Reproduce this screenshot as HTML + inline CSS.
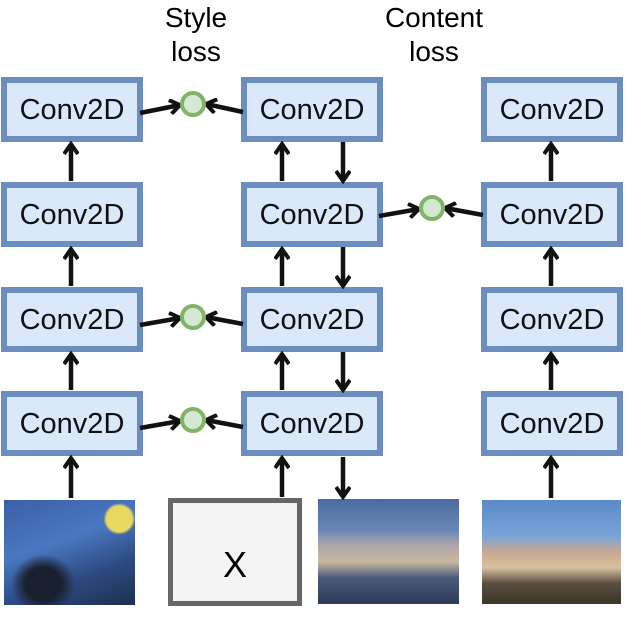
<!DOCTYPE html>
<html><head><style>
body{margin:0;background:#fff;width:630px;height:613px;overflow:hidden;position:relative;font-family:"Liberation Sans",sans-serif}
.b{position:absolute;width:130px;height:53px;background:#dae8fc;border:6px solid #6c8ebf;font-size:29px;line-height:55px;text-align:center;color:#111}
.l{position:absolute;font-size:28px;text-align:center;line-height:34px;width:160px}
.img{position:absolute}
</style></head><body>
<div class="l" style="left:116px;top:1px">Style<br>loss</div>
<div class="l" style="left:354px;top:1px">Content<br>loss</div>

<div class="b" style="left:1px;top:77px">Conv2D</div>
<div class="b" style="left:1px;top:182px">Conv2D</div>
<div class="b" style="left:1px;top:287px">Conv2D</div>
<div class="b" style="left:1px;top:391px">Conv2D</div>
<div class="b" style="left:241px;top:77px">Conv2D</div>
<div class="b" style="left:241px;top:182px">Conv2D</div>
<div class="b" style="left:241px;top:287px">Conv2D</div>
<div class="b" style="left:241px;top:391px">Conv2D</div>
<div class="b" style="left:481px;top:77px">Conv2D</div>
<div class="b" style="left:481px;top:182px">Conv2D</div>
<div class="b" style="left:481px;top:287px">Conv2D</div>
<div class="b" style="left:481px;top:391px">Conv2D</div>

<div class="img" style="left:4px;top:500px;width:131px;height:105px;background:radial-gradient(circle at 88% 18%,#e8d860 0,#e8d860 9%,transparent 11%),radial-gradient(ellipse at 30% 80%,#1a2030 0,#1a2030 14%,transparent 25%),linear-gradient(160deg,#3a5fa8,#4a78c0 40%,#2c4a80 70%,#1e2f50)"></div>
<div style="position:absolute;left:168px;top:498px;width:124px;height:98px;background:#f4f4f4;border:5px solid #666;font-size:36px;line-height:124px;text-align:center">X</div>
<div class="img" style="left:318px;top:499px;width:141px;height:105px;background:linear-gradient(180deg,#4a6aa0 0,#6a88b8 30%,#b0a8a8 45%,#c8b8a0 60%,#4a5a78 75%,#2a3a58 100%)"></div>
<div class="img" style="left:482px;top:500px;width:139px;height:104px;background:linear-gradient(180deg,#5a8ac8 0,#7aa4d8 35%,#c8a890 50%,#d8c0a0 65%,#5a5040 80%,#3a3528 100%)"></div>

<svg width="630" height="613" style="position:absolute;left:0;top:0" viewBox="0 0 630 613">
<defs><marker id="a" markerWidth="14" markerHeight="16" refX="11" refY="8" orient="auto" markerUnits="userSpaceOnUse"><path d="M1,1 L11,8 L1,15" fill="none" stroke="#111" stroke-width="4"/></marker></defs>
<g stroke="#111" stroke-width="4.5" fill="none" marker-end="url(#a)">
<line x1="71" y1="181" x2="71" y2="144"/>
<line x1="71" y1="286" x2="71" y2="249"/>
<line x1="71" y1="390" x2="71" y2="354"/>
<line x1="71" y1="498" x2="71" y2="458"/>
<line x1="282" y1="181" x2="282" y2="144"/>
<line x1="282" y1="286" x2="282" y2="249"/>
<line x1="282" y1="390" x2="282" y2="354"/>
<line x1="282" y1="497" x2="282" y2="458"/>
<line x1="343" y1="142" x2="343" y2="181"/>
<line x1="343" y1="247" x2="343" y2="286"/>
<line x1="343" y1="352" x2="343" y2="390"/>
<line x1="343" y1="457" x2="343" y2="497"/>
<line x1="551" y1="181" x2="551" y2="144"/>
<line x1="551" y1="286" x2="551" y2="249"/>
<line x1="551" y1="390" x2="551" y2="354"/>
<line x1="551" y1="498" x2="551" y2="458"/>
<line x1="140" y1="113" x2="180" y2="105"/>
<line x1="243" y1="112" x2="206" y2="104"/>
<line x1="140" y1="325" x2="180" y2="318"/>
<line x1="243" y1="324" x2="206" y2="317"/>
<line x1="140" y1="428" x2="180" y2="421"/>
<line x1="243" y1="427" x2="206" y2="420"/>
<line x1="379" y1="216" x2="419" y2="209"/>
<line x1="483" y1="215" x2="445" y2="208"/>
</g>
<g fill="#d5e8d4" stroke="#82b366" stroke-width="4">
<circle cx="193" cy="104" r="11"/>
<circle cx="193" cy="317" r="11"/>
<circle cx="193" cy="420" r="11"/>
<circle cx="432" cy="208" r="11"/>
</g>
</svg>
</body></html>
